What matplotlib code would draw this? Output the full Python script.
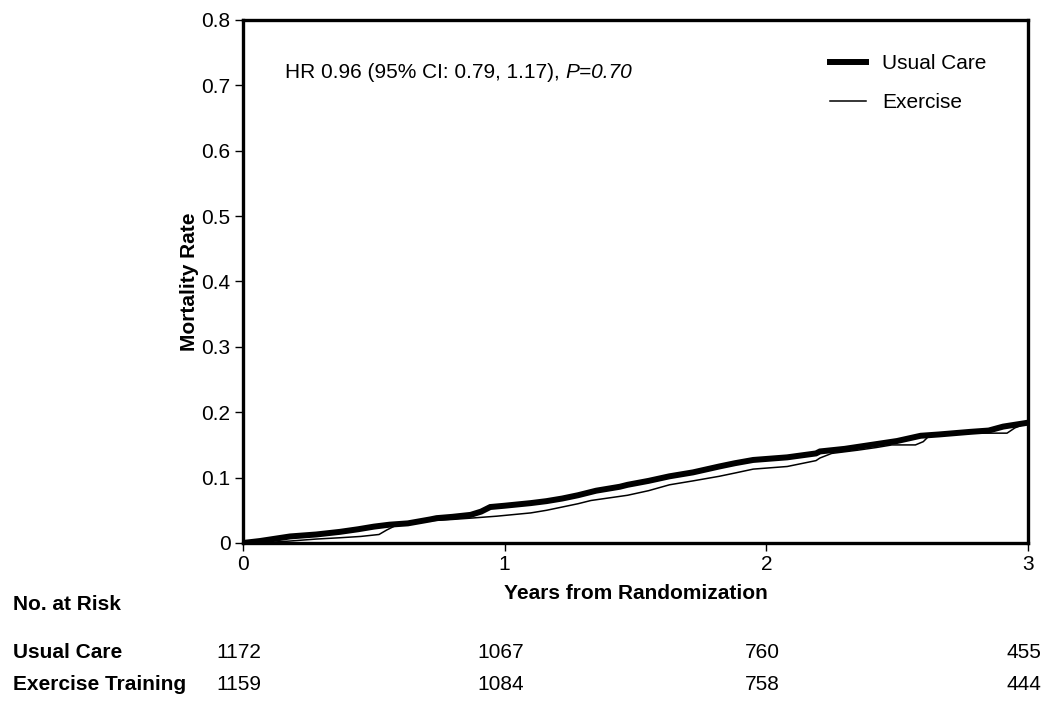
import matplotlib.pyplot as plt
import matplotlib.transforms as mtransforms

plt.rcParams['font.family'] = ['Liberation Sans', 'DejaVu Sans']

# cumulative mortality curves
uc_t = [0.00, 0.065, 0.18, 0.28, 0.37, 0.44, 0.50, 0.56, 0.63, 0.715, 0.74, 0.80, 0.87,
        0.91, 0.945, 1.00, 1.10, 1.16, 1.22, 1.28, 1.35, 1.44, 1.47, 1.55, 1.63, 1.72,
        1.82, 1.88, 1.95, 2.08, 2.19, 2.205, 2.30, 2.40, 2.50, 2.59, 2.66, 2.78, 2.85,
        2.905, 3.00]
uc_y = [0.000, 0.003, 0.010, 0.013, 0.017, 0.021, 0.025, 0.028, 0.030, 0.036, 0.038,
        0.040, 0.043, 0.048, 0.055, 0.057, 0.061, 0.064, 0.068, 0.073, 0.080, 0.086,
        0.089, 0.095, 0.102, 0.108, 0.117, 0.122, 0.127, 0.131, 0.137, 0.140, 0.144,
        0.150, 0.156, 0.164, 0.166, 0.170, 0.172, 0.178, 0.184]

ex_t = [0.00, 0.10, 0.18, 0.28, 0.37, 0.45, 0.52, 0.55, 0.58, 0.63, 0.715, 0.80, 0.87,
        0.97, 1.10, 1.16, 1.22, 1.28, 1.33, 1.40, 1.47, 1.55, 1.63, 1.72, 1.82, 1.88,
        1.95, 2.08, 2.19, 2.205, 2.25, 2.35, 2.42, 2.48, 2.57, 2.60, 2.625, 2.70, 2.80,
        2.87, 2.92, 2.95, 3.00]
ex_y = [0.000, 0.001, 0.003, 0.006, 0.008, 0.010, 0.013, 0.020, 0.026, 0.029, 0.034,
        0.036, 0.038, 0.041, 0.046, 0.050, 0.055, 0.060, 0.065, 0.069, 0.073, 0.080,
        0.089, 0.095, 0.102, 0.107, 0.113, 0.117, 0.126, 0.130, 0.137, 0.142, 0.146,
        0.150, 0.150, 0.155, 0.165, 0.167, 0.168, 0.168, 0.168, 0.176, 0.184]

risk_years = [0, 1, 2, 3]
risk_uc = [1172, 1067, 760, 455]
risk_ex = [1159, 1084, 758, 444]

FS = 15

fig = plt.figure(figsize=(10.5, 7.21), dpi=100)
ax = fig.add_axes([0.2314, 0.2469, 0.7476, 0.7254])

ax.plot(uc_t, uc_y, color='black', lw=4.3, solid_joinstyle='miter', label='Usual Care')
ax.plot(ex_t, ex_y, color='black', lw=1.1, label='Exercise')

ax.set_xlim(0, 3)
ax.set_ylim(0, 0.8)
ax.set_xticks([0, 1, 2, 3])
ax.set_yticks([0, 0.1, 0.2, 0.3, 0.4, 0.5, 0.6, 0.7, 0.8])
ax.set_yticklabels(['0', '0.1', '0.2', '0.3', '0.4', '0.5', '0.6', '0.7', '0.8'])
ax.tick_params(direction='out', length=6, width=1, labelsize=FS, pad=3)
for s in ax.spines.values():
    s.set_linewidth(2.4)

ax.set_ylabel('Mortality Rate', fontsize=FS, fontweight='bold')
ax.yaxis.set_label_coords(-0.056, 0.5)
ax.set_xlabel('Years from Randomization', fontsize=FS, fontweight='bold')
ax.xaxis.set_label_coords(0.5, -0.078)

# hazard ratio annotation, P value in italics
t1 = ax.text(0.0535, 0.899, 'HR 0.96 (95% CI: 0.79, 1.17), ', transform=ax.transAxes,
             fontsize=FS, va='center', ha='left')
ax.annotate('P=0.70', xy=(1, 0.5), xycoords=t1, va='center', ha='left',
            fontsize=FS, style='italic')

ax.legend(loc='upper left', bbox_to_anchor=(0.748, 0.934), frameon=False,
          fontsize=FS, handlelength=1.7, handletextpad=0.8, labelspacing=0.94,
          borderpad=0, borderaxespad=0)

# number at risk table
tr = mtransforms.blended_transform_factory(ax.transData, fig.transFigure)
fig.text(13 / 1050, 1 - 604 / 721, 'No. at Risk', fontsize=FS, fontweight='bold', va='center')
fig.text(13 / 1050, 1 - 652 / 721, 'Usual Care', fontsize=FS, fontweight='bold', va='center')
fig.text(13 / 1050, 1 - 685 / 721, 'Exercise Training', fontsize=FS, fontweight='bold', va='center')
for x, a, b in zip(risk_years, risk_uc, risk_ex):
    ax.text(x - 0.015, 1 - 652 / 721, str(a), transform=tr, fontsize=FS, ha='center', va='center')
    ax.text(x - 0.015, 1 - 685 / 721, str(b), transform=tr, fontsize=FS, ha='center', va='center')

fig.savefig('out.png', dpi=100)
